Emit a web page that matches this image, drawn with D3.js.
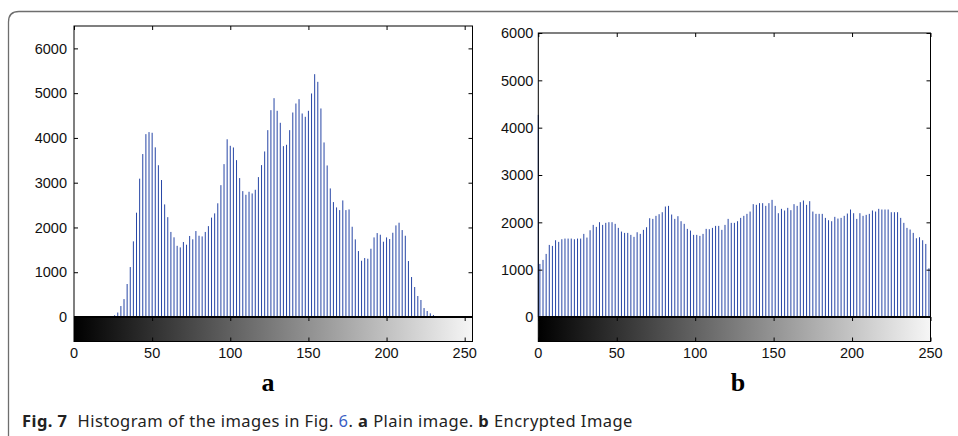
<!DOCTYPE html>
<html>
<head>
<meta charset="utf-8">
<script src="https://cdn.jsdelivr.net/npm/d3@7"></script>
<style>
  html, body { margin: 0; padding: 0; background: #fff; }
  svg { display: block; }
</style>
</head>
<body>
<svg id="chart" width="958" height="436"></svg>
<script>
// ---------- DATA ----------
// Plain image histogram (bins at even grey levels 0..254)
const plainBins = d3.range(0, 256, 2);
const plainValues = [
  0,0,0,0,0,0,0,0,0,0,0,0,            // 0..22
  10,40,100,245,400,737,1116,1690,   // 24..38
  2330,3090,3640,4085,4130,4115,3790,3390, // 40..54
  3060,2515,2230,1900,1780,1590,1555,1675, // 56..70
  1615,1810,1735,1920,1815,1800,1900,2030, // 72..86
  2220,2315,2540,2945,3415,3970,3824,3787, // 88..102
  3504,3103,2812,2730,2797,2760,2842,3125, // 104..118
  3393,3698,4174,4620,4888,4606,4338,3817, // 120..134
  3847,4174,4568,4769,4866,4546,4472,4606, // 136..150
  4993,5424,5253,4658,3899,3385,2872,2567, // 152..166
  2448,2388,2604,2388,2403,2016,1734,1473, // 168..182
  1257,1317,1302,1525,1778,1875,1838,1682, // 184..198
  1778,1741,1882,2046,2106,1942,1815,1250, // 200..214
  893,670,469,380,200,134,82,45,           // 216..230
  20,10,5,0,0,0,0,0,0,0,0,0                // 232..254
];

// Encrypted image histogram (bin 0, then odd grey levels 1..249)
const cipherBins = [0].concat(d3.range(1, 250, 2));
const cipherValues = [
  4270,
  1121,1206,1333,1523,1502,1622,1587,1643,1657,1657,   // 1..19
  1657,1643,1657,1657,1756,1678,1833,1946,1904,2003,   // 21..39
  1946,1989,2003,2003,1968,1883,1805,1777,1777,1735,   // 41..59
  1693,1791,1756,1841,1897,2087,2073,2137,2172,2214,   // 61..79
  2334,2348,2165,2073,2130,2024,1968,1862,1826,1735,   // 81..99
  1735,1714,1756,1862,1855,1883,1925,1925,1841,1946,   // 101..119
  2073,1989,1989,2024,2094,2137,2179,2228,2384,2370,   // 121..139
  2405,2405,2348,2405,2475,2348,2193,2285,2250,2306,   // 141..159
  2257,2384,2348,2426,2461,2370,2447,2228,2179,2179,   // 161..179
  2179,2094,2045,2024,2116,2080,2094,2137,2186,2271,   // 181..199
  2193,2073,2193,2137,2158,2179,2250,2228,2285,2271,   // 201..219
  2271,2271,2214,2214,2214,2094,1989,1883,1848,1777,   // 221..239
  1664,1685,1622,1544,1030                             // 241..249
];

const yTicks = [0, 1000, 2000, 3000, 4000, 5000, 6000];
const xTicks = [0, 50, 100, 150, 200, 250];
const panelLabels = ["a", "b"];

// ---------- DRAW ----------
const svg = d3.select("#chart");
const font = "'Liberation Sans', Arial, Helvetica, sans-serif";

// outer frame with rounded corner
svg.append("path")
  .attr("d", "M8.5,440 L8.5,22 Q8.5,11.5 19,11.5 L960,11.5")
  .attr("fill", "none").attr("stroke", "#6e6e6e").attr("stroke-width", 1.3);

const defs = svg.append("defs");

function panel(cfg) {
  const g = svg.append("g");
  const x = d3.scaleLinear().domain(cfg.xDomain).range([cfg.left, cfg.right]);
  const y = d3.scaleLinear().domain(cfg.yDomain).range([cfg.zero, cfg.top]);
  const cbBottom = cfg.cbBottom;

  // bars
  g.append("g").selectAll("rect")
    .data(cfg.bins.map((b, i) => ({ b, v: cfg.values[i] })).filter(d => d.v > 0))
    .join("rect")
    .attr("x", d => x(d.b) - 0.5)
    .attr("width", 1)
    .attr("y", d => y(d.v))
    .attr("height", d => y(0) - y(d.v))
    .attr("fill", "#2746a6");

  // colorbar gradient
  const gid = "grad" + cfg.id;
  const grad = defs.append("linearGradient").attr("id", gid)
    .attr("x1", "0%").attr("x2", "100%").attr("y1", "0%").attr("y2", "0%");
  grad.append("stop").attr("offset", "0%").attr("stop-color", "#000");
  grad.append("stop").attr("offset", "100%").attr("stop-color", "#f6f6f6");
  g.append("rect")
    .attr("x", cfg.left).attr("y", cfg.zero)
    .attr("width", cfg.right - cfg.left).attr("height", cbBottom - cfg.zero)
    .attr("fill", `url(#${gid})`);

  // main box
  g.append("rect")
    .attr("x", cfg.left).attr("y", cfg.top)
    .attr("width", cfg.right - cfg.left).attr("height", cbBottom - cfg.top)
    .attr("fill", "none").attr("stroke", "#000").attr("stroke-width", 1);
  // zero / colorbar top line
  g.append("line")
    .attr("x1", cfg.left).attr("x2", cfg.right)
    .attr("y1", cfg.zero).attr("y2", cfg.zero)
    .attr("stroke", "#000").attr("stroke-width", 2);

  // y axis (inward ticks on both sides)
  const yAxisL = d3.axisRight(y).tickValues(yTicks).tickSize(4).tickFormat("");
  g.append("g").attr("transform", `translate(${cfg.left},0)`).call(yAxisL)
    .call(s => s.select(".domain").remove());
  const yAxisR = d3.axisLeft(y).tickValues(yTicks).tickSize(4).tickFormat("");
  g.append("g").attr("transform", `translate(${cfg.right},0)`).call(yAxisR)
    .call(s => s.select(".domain").remove());
  // y labels
  g.append("g").selectAll("text").data(yTicks).join("text")
    .attr("x", cfg.left - cfg.labelGap).attr("y", d => y(d))
    .attr("dy", "0.36em").attr("text-anchor", "end")
    .attr("font-family", font).attr("font-size", 14.5).attr("fill", "#111")
    .text(d => d);

  // top x ticks (inward)
  const xTop = d3.axisBottom(x).tickValues(xTicks).tickSize(4).tickFormat("");
  g.append("g").attr("transform", `translate(0,${cfg.top})`).call(xTop)
    .call(s => s.select(".domain").remove());
  // colorbar ticks
  const xCbTop = d3.axisBottom(x).tickValues(xTicks).tickSize(4).tickFormat("");
  g.append("g").attr("transform", `translate(0,${cfg.zero})`).call(xCbTop)
    .call(s => s.select(".domain").remove());
  const xBottom = d3.axisTop(x).tickValues(xTicks).tickSize(4).tickFormat("");
  g.append("g").attr("transform", `translate(0,${cbBottom})`).call(xBottom)
    .call(s => s.select(".domain").remove());
  g.selectAll(".tick line").attr("stroke", "#000");

  // x labels
  g.append("g").selectAll("text").data(xTicks).join("text")
    .attr("x", d => x(d)).attr("y", 358)
    .attr("text-anchor", "middle")
    .attr("font-family", font).attr("font-size", 14.5).attr("fill", "#111")
    .text(d => d);

  // panel label
  svg.append("text")
    .attr("x", cfg.labelX).attr("y", 391)
    .attr("text-anchor", "middle")
    .attr("font-family", "'Liberation Serif', 'Times New Roman', serif")
    .attr("font-weight", "bold").attr("font-size", 26).attr("fill", "#000")
    .text(cfg.label);
}

panel({
  id: "a", bins: plainBins, values: plainValues,
  xDomain: [0, 255], yDomain: [0, 6500],
  left: 74, right: 472.5, top: 26, zero: 317, cbBottom: 341.5,
  labelGap: 7, label: panelLabels[0], labelX: 268
});
panel({
  id: "b", bins: cipherBins, values: cipherValues,
  xDomain: [0, 250], yDomain: [0, 6000],
  left: 538.3, right: 930.5, top: 33, zero: 317, cbBottom: 341.5,
  labelGap: 5, label: panelLabels[1], labelX: 738
});

// caption
const cap = svg.append("text")
  .attr("x", 22).attr("y", 427)
  .attr("font-family", "'Noto Sans', 'Open Sans', sans-serif")
  .attr("font-size", 16.5).attr("letter-spacing", 0.45).attr("fill", "#222");
cap.append("tspan").attr("font-weight", "bold").text("Fig. 7");
cap.append("tspan").attr("dx", 10).text("Histogram of the images in Fig. ");
cap.append("tspan").attr("fill", "#3b5fc4").text("6");
cap.append("tspan").text(". ");
cap.append("tspan").attr("font-weight", "bold").text("a");
cap.append("tspan").text(" Plain image. ");
cap.append("tspan").attr("font-weight", "bold").text("b");
cap.append("tspan").text(" Encrypted Image");
</script>
</body>
</html>
